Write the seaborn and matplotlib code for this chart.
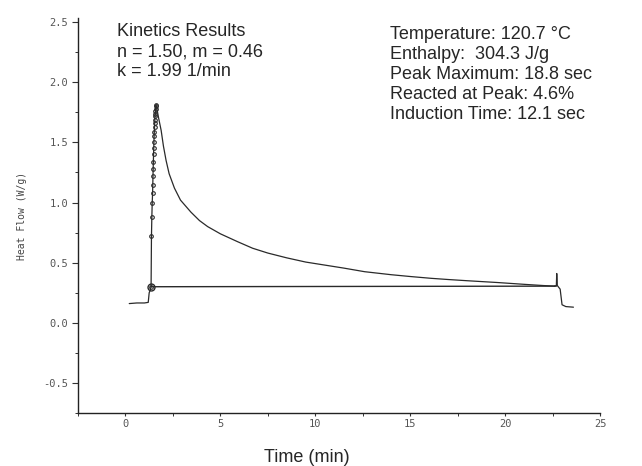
import matplotlib
matplotlib.use('Agg')
import matplotlib.pyplot as plt
import pandas as pd
import numpy as np
import seaborn as sns

# signal before the onset (min, W/g)
pre_time = [0.2, 0.6, 1.0, 1.2, 1.25, 1.3, 1.35]
pre_flow = [0.16, 0.165, 0.165, 0.17, 0.25, 0.27, 0.30]

# steep rise, sampled points drawn as small circles
rise_time = [1.35, 1.37, 1.39, 1.41, 1.43, 1.44, 1.45, 1.46, 1.47, 1.48,
             1.49, 1.50, 1.51, 1.52, 1.53, 1.54, 1.55, 1.56, 1.57, 1.58,
             1.59, 1.60, 1.61]
rise_flow = [0.30, 0.72, 0.88, 1.00, 1.08, 1.15, 1.22, 1.28, 1.34, 1.40,
             1.45, 1.50, 1.55, 1.59, 1.63, 1.66, 1.69, 1.72, 1.74, 1.76,
             1.78, 1.80, 1.81]

# decay after the peak
decay_time = [1.61, 1.68, 1.75, 1.88, 2.0, 2.14, 2.3, 2.58, 2.9, 3.45, 3.9,
              4.33, 5.0, 5.9, 6.7, 7.5, 8.5, 9.5, 10.5, 11.5, 12.6, 14.0,
              15.0, 16.1, 17.0, 18.0, 19.6, 21.0, 22.0, 22.6]
decay_flow = [1.81, 1.76, 1.70, 1.60, 1.47, 1.35, 1.24, 1.12, 1.02, 0.92,
              0.85, 0.80, 0.74, 0.675, 0.62, 0.58, 0.54, 0.505, 0.48, 0.455,
              0.425, 0.40, 0.385, 0.37, 0.36, 0.35, 0.335, 0.32, 0.31, 0.305]

# end of the run
end_time = [22.6, 22.7, 22.72, 22.75, 22.9, 23.0, 23.2, 23.6]
end_flow = [0.305, 0.31, 0.41, 0.31, 0.28, 0.15, 0.135, 0.13]

# integration baseline
base_time = [1.35, 22.7]
base_flow = [0.30, 0.305]

kinetics_lines = ['Kinetics Results', 'n = 1.50, m = 0.46', 'k = 1.99 1/min']
summary_lines = ['Temperature: 120.7 \u00b0C', 'Enthalpy:  304.3 J/g',
                 'Peak Maximum: 18.8 sec', 'Reacted at Peak: 4.6%',
                 'Induction Time: 12.1 sec']

x_ticks = [0, 5, 10, 15, 20, 25]
y_ticks = [-0.5, 0.0, 0.5, 1.0, 1.5, 2.0, 2.5]

sns.set_theme(style='ticks')
plt.rcParams['font.family'] = ['Liberation Sans', 'DejaVu Sans']

fig = plt.figure(figsize=(6.42, 4.66), dpi=100)
ax = fig.add_axes([0.1215, 0.1137, 0.8131, 0.8473])

line_col = '#2a2a2a'
curve_df = pd.DataFrame({'Time': pre_time + decay_time + end_time,
                         'Flow': pre_flow + decay_flow + end_flow,
                         'part': ['pre'] * len(pre_time) + ['decay'] * len(decay_time)
                         + ['end'] * len(end_time)})
for part in ['pre', 'decay', 'end']:
    sns.lineplot(data=curve_df[curve_df['part'] == part], x='Time', y='Flow',
                 sort=False, estimator=None, color=line_col, linewidth=0.9, ax=ax)

ax.plot(rise_time, rise_flow, color=line_col, linewidth=0.9, marker='o',
        markersize=2.6, markerfacecolor='none', markeredgewidth=0.8)
ax.plot(base_time, base_flow, color=line_col, linewidth=1.0)
ax.plot([base_time[0]], [base_flow[0]], marker='o', markersize=5,
        markerfacecolor='none', markeredgecolor=line_col, markeredgewidth=1.0)

ax.set_xlim(-2.43, 25)
ax.set_ylim(-0.75, 2.533)
ax.set_xticks(x_ticks)
ax.set_xticks(np.arange(-2.5, 25.1, 2.5), minor=True)
ax.set_yticks(y_ticks)
ax.set_yticks(np.arange(-0.75, 2.6, 0.25), minor=True)
ax.set_yticklabels(['%.1f' % v for v in y_ticks])
ax.set_xlabel('')
ax.set_ylabel('Heat Flow (W/g)', family='DejaVu Sans Mono', fontsize=7,
              color='#444444', labelpad=12)

for lab in ax.get_xticklabels() + ax.get_yticklabels():
    lab.set_family('DejaVu Sans Mono')
    lab.set_fontsize(7.5)
    lab.set_color('#555555')

ax.tick_params(axis='both', which='major', length=4.5, width=0.8, color='#333333')
ax.tick_params(axis='y', which='major', pad=2.5)
ax.tick_params(axis='x', which='major', length=2.5, pad=1.5)
ax.tick_params(axis='both', which='minor', length=2.5, width=0.7, color='#333333')
sns.despine(ax=ax)
for side in ['left', 'bottom']:
    ax.spines[side].set_color('#222222')
    ax.spines[side].set_linewidth(1.0)

fig.text(0.182, 0.950, '\n'.join(kinetics_lines), fontsize=13, va='top',
         ha='left', linespacing=1.23, family=['Liberation Sans', 'DejaVu Sans'])
fig.text(0.607, 0.945, '\n'.join(summary_lines), fontsize=13, va='top',
         ha='left', linespacing=1.24, family=['Liberation Sans', 'DejaVu Sans'])
fig.text(0.478, 0.019, 'Time (min)', fontsize=13, ha='center', va='center',
         family=['Liberation Sans', 'DejaVu Sans'])

fig.savefig('out.png', dpi=100)
